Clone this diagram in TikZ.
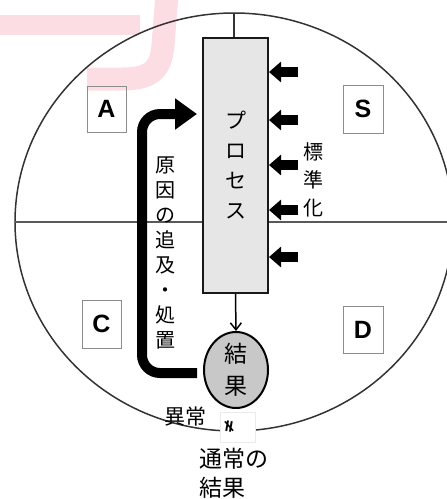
\documentclass[tikz,border=0pt]{standalone}
\usepackage{fontspec}
\usetikzlibrary{arrows.meta,shapes.geometric}
\newfontfamily\jp{Noto Sans CJK JP}
\newfontfamily\lat{Liberation Sans}
\newfontfamily\dv{DejaVu Sans}
\definecolor{pinkc}{HTML}{FDDDE4}
\definecolor{boxfill}{HTML}{E6E6E6}
\definecolor{resfill}{HTML}{C8C8C8}
\definecolor{linec}{HTML}{333333}
\tikzset{
  letterbox/.style={draw=black!45, line width=1pt, inner sep=0pt, font=\lat\bfseries\fontsize{25}{25}\selectfont},
  fatarrow/.style={line width=10pt, line cap=butt, -{Triangle[length=12pt,width=20pt]}},
  backarrow/.style={line width=10pt, line cap=butt, rounded corners=18pt, -{Triangle[length=22pt,width=30pt]}},
  jptext/.style={font=\jp\fontsize{20}{25}\selectfont, align=center, inner sep=0pt, text=black},
}
\begin{document}
\begin{tikzpicture}[x=1pt,y=-1pt]
\useasboundingbox (0,0) rectangle (447,499);
% pink mark
\fill[pinkc] (0,15) rectangle (140,35);
\draw[pinkc, line width=23pt, line cap=butt] (167,-5) -- (163,45) .. controls (161,72) and (148,79) .. (122,79) -- (87,79);
% big ellipse and axes
\draw[linec, line width=1.5pt] (234,222) ellipse [x radius=219pt, y radius=209pt];
\coordinate (hl) at (15,222);
\coordinate (hr) at (453,222);
\draw[black!65, line width=1.5pt] (hl) -- (hr);
\coordinate (top) at (234,13);
% process box
\node[draw=black!90, line width=2pt, fill=boxfill, minimum width=65pt, minimum height=255pt, inner sep=0pt,
      font=\jp\fontsize{21}{30}\selectfont, align=center] (proc) at (235.5,165.5) {プ\\ロ\\セ\\ス};
\draw[linec, line width=1.5pt] (top) -- (top |- proc.north);
% result
\node[draw=black, line width=2pt, fill=resfill, ellipse, minimum width=64pt, minimum height=76pt, inner sep=0pt,
      font=\jp\fontsize{23}{32}\selectfont, align=center] (res) at (236,370) {結\\果};
\draw[black, line width=1.5pt, -{Straight Barb[length=7pt,width=11pt]}] (proc.south) -- (res.north);
% standardisation arrows
\foreach \y [count=\i] in {72,120,165,210,257}{
  \coordinate (r\i) at (298,\y);
  \draw[fatarrow] (r\i) -- (r\i -| proc.east);
}
\node[jptext, font=\jp\fontsize{20}{28}\selectfont] (std) at (313,180) {標\\準\\化};
% feedback arrow
\coordinate (fb1) at (197,373);
\coordinate (fb2) at (197,114);
\draw[backarrow] (fb1) -- (142,373) -- (142,114) -- (fb2);
\node[jptext] (cause) at (165,252.5) {原\\因\\の\\追\\及\\・\\処\\置};
% letter boxes
\node[letterbox, minimum width=39pt, minimum height=46pt] (A) at (106.5,109) {A};
\node[letterbox, minimum width=40pt, minimum height=48pt] (S) at (363,109) {S};
\node[letterbox, minimum width=39pt, minimum height=48pt] (C) at (101.5,324) {C};
\node[letterbox, minimum width=40pt, minimum height=47pt] (D) at (363,329.5) {D};
% bottom labels
\node[fill=white, draw=black!8, minimum width=35pt, minimum height=30pt, inner sep=0pt] (ne) at (237.5,427) {};
\node[font=\dv\bfseries\fontsize{17}{17}\selectfont, rotate=80, inner sep=0pt] (nesym) at (229,427) {≠};
\node[jptext, font=\jp\fontsize{21}{21}\selectfont] (abn) at (185,417) {異常};
\node[jptext, font=\jp\fontsize{23}{29}\selectfont, align=left, anchor=west] (norm) at (199,473) {通常の\\結果};
\end{tikzpicture}
\end{document}
